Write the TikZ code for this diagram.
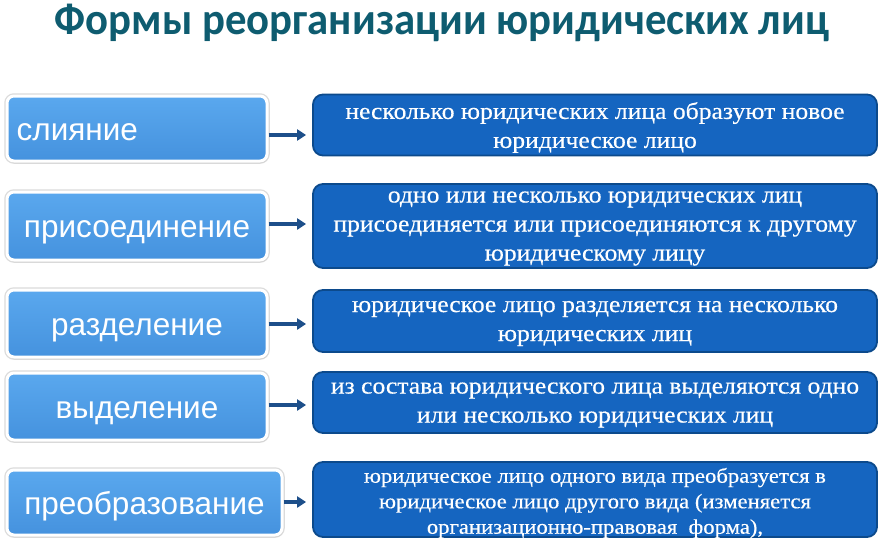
\documentclass[tikz,border=0pt]{standalone}
\usepackage{fontspec}
\setmainfont{Liberation Serif}
\newfontfamily\lsans{Liberation Sans}
\newfontfamily\titlefont[FakeStretch=0.95]{Carlito}
\newfontfamily\rserif[FakeStretch=1.09,FakeBold=0.4]{Liberation Serif}
\usetikzlibrary{arrows.meta,shadows,calc}
\definecolor{titlec}{HTML}{0E5C70}
\definecolor{ltop}{HTML}{5AA8EE}
\definecolor{lbot}{HTML}{4592DE}
\definecolor{rfill}{HTML}{1565C0}
\definecolor{rdraw}{HTML}{0C4A8C}
\definecolor{arrc}{HTML}{1D4F8A}
\tikzset{
  lbox/.style={rectangle, rounded corners=7pt, draw=white, line width=3pt,
    top color=ltop, bottom color=lbot, inner sep=0pt,
    preaction={draw=black!14, line width=5.5pt},
    drop shadow={shadow xshift=1pt, shadow yshift=-2pt, fill=black!22, opacity=0.5}},
  ltext/.style={anchor=base, inner sep=0pt, text=white, font=\lsans\fontsize{31.5}{36}\selectfont},
  rbox/.style={rectangle, rounded corners=10pt, draw=rdraw, line width=1.8pt,
    fill=rfill, inner sep=0pt},
  rtext/.style={inner sep=0pt, text=white, align=center,
    font=\rserif\fontsize{23.5}{29}\selectfont},
  rtextsmall/.style={rtext, font=\rserif\fontsize{20.8}{25.5}\selectfont},
  arr/.style={draw=arrc, line width=4pt, -{Triangle[length=9pt,width=11pt]}, shorten >=6pt},
}
\begin{document}
\begin{tikzpicture}[x=1pt,y=-1pt]
\useasboundingbox (0,0) rectangle (883,541);
\fill[white] (0,0) rectangle (883,541);
\node[anchor=base, text=titlec, inner sep=0pt, font=\titlefont\bfseries\fontsize{45}{50}\selectfont] (title) at (442,34) {Формы реорганизации юридических лиц};
% left boxes
\node[lbox, minimum width=260pt, minimum height=65pt] (l1) at (137,128.5) {};
\node[lbox, minimum width=260pt, minimum height=68pt] (l2) at (137,226) {};
\node[lbox, minimum width=260pt, minimum height=67pt] (l3) at (137,323.5) {};
\node[lbox, minimum width=260pt, minimum height=67pt] (l4) at (137,406.5) {};
\node[lbox, minimum width=275pt, minimum height=65pt] (l5) at (144.5,502.5) {};
\node[ltext, anchor=base west] (t1) at ($(l1.west)+(11,11.5)$) {слияние};
\node[ltext] (t2) at ($(l2.center)+(0,11.5)$) {присоединение};
\node[ltext] (t3) at ($(l3.center)+(0,11.5)$) {разделение};
\node[ltext] (t4) at ($(l4.center)+(0,11.5)$) {выделение};
\node[ltext] (t5) at ($(l5.center)+(0,11.5)$) {преобразование};
% right boxes
\node[rbox, minimum width=564pt, minimum height=61pt] (r1) at (595,125) {};
\node[rbox, minimum width=564pt, minimum height=84pt] (r2) at (595,226) {};
\node[rbox, minimum width=564pt, minimum height=62pt] (r3) at (595,321) {};
\node[rbox, minimum width=564pt, minimum height=61pt] (r4) at (595,402.5) {};
\node[rbox, minimum width=564pt, minimum height=75pt] (r5) at (595,499.5) {};
\node[rtext] (s1) at ($(r1.center)+(0,2.5)$) {несколько юридических лица образуют новое\\юридическое лицо};
\node[rtext] (s2) at ($(r2.center)+(0,2.5)$) {одно или несколько юридических лиц\\присоединяется или присоединяются к другому\\юридическому лицу};
\node[rtext] (s3) at ($(r3.center)+(0,2.5)$) {юридическое лицо разделяется на несколько\\юридических лиц};
\node[rtext] (s4) at ($(r4.center)+(0,2.5)$) {из состава юридического лица выделяются одно\\или несколько юридических лиц};
\node[rtextsmall] (s5) at ($(r5.center)+(0,3.5)$) {юридическое лицо одного вида преобразуется в\\юридическое лицо другого вида (изменяется\\организационно-правовая\ \ форма),};
% arrows
\coordinate (a1) at (300,135);
\coordinate (a2) at (300,224);
\coordinate (a3) at (300,324);
\coordinate (a4) at (300,405);
\coordinate (a5) at (300,502);
\foreach \i in {1,...,5} {
  \draw[arr] (l\i.east |- a\i) -- (a\i -| r\i.west);
}
\end{tikzpicture}
\end{document}
